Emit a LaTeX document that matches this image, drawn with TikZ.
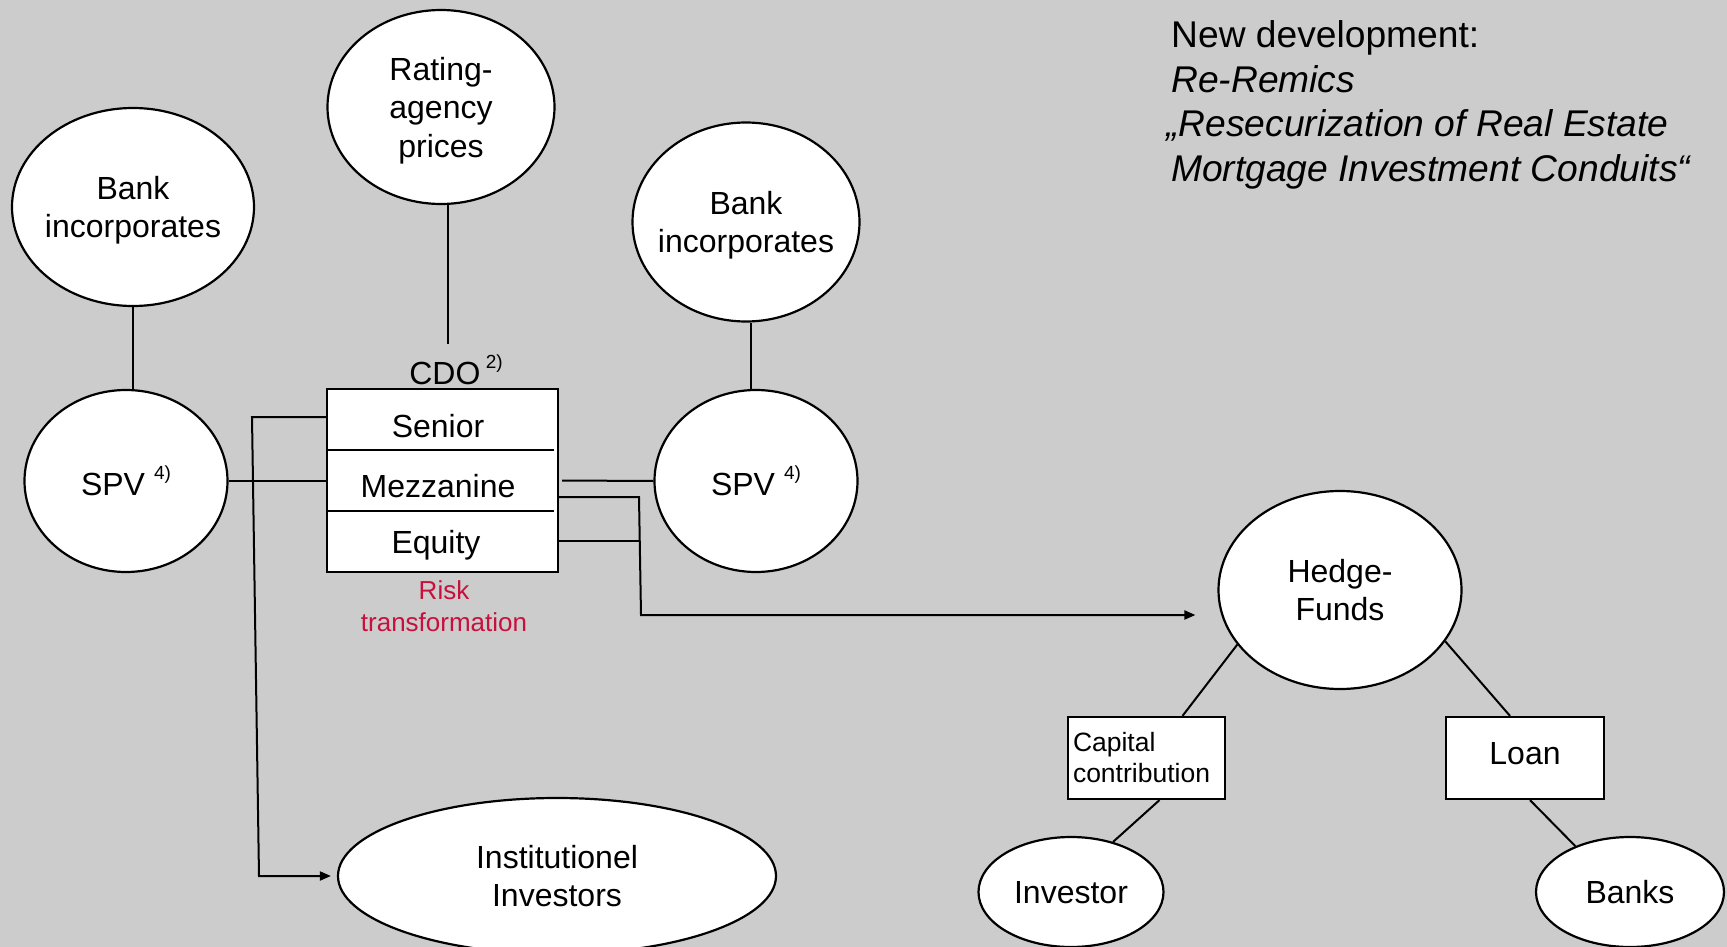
\documentclass[tikz,border=0pt]{standalone}
\usepackage{fontspec}
\setmainfont{Liberation Sans}
\usetikzlibrary{shapes.geometric,arrows.meta}
\definecolor{bg}{RGB}{204,204,204}
\definecolor{riskred}{RGB}{200,16,60}
\newcommand\fsz[2]{\fontsize{#1}{#2}\selectfont}
\newcommand\supr[1]{\raisebox{0.5em}{\fsz{19}{19}#1}}
\begin{document}
\begin{tikzpicture}[x=1pt,y=-1pt,
  ell/.style={ellipse,draw,fill=white,line width=2.2pt,inner sep=-20pt,text depth=0pt,align=center,font=\fsz{32}{38.5}},
  box/.style={rectangle,draw,fill=white,line width=2.2pt,inner sep=0pt},
  lbl/.style={inner sep=0pt,font=\fsz{32}{38.5}},
  red lbl/.style={inner sep=0pt,text=riskred,font=\fsz{26}{32}},
  note/.style={anchor=base west,inner sep=0pt,font=\fsz{37.2}{44}},
  conn/.style={line width=2pt},
  arr/.style={conn,-{Triangle[length=11pt,width=9pt]}},
]
\fill[bg] (0,0) rectangle (1727,947);
\useasboundingbox (0,0) rectangle (1727,947);

% ellipses
\node[ell,minimum width=242pt,minimum height=198pt] (bankL) at (133,207) {Bank\\incorporates};
\node[ell,minimum width=227pt,minimum height=194pt] (rating) at (441,107) {Rating-\\agency\\prices};
\node[ell,minimum width=227pt,minimum height=199pt] (bankR) at (746,222) {Bank\\incorporates};
\node[ell,minimum width=203pt,minimum height=182pt] (spvL) at (126,481) {SPV\hspace{9pt}\supr{4)}};
\node[ell,minimum width=203pt,minimum height=182pt] (spvR) at (756,481) {SPV\hspace{9pt}\supr{4)}};
\node[ell,minimum width=243pt,minimum height=198pt] (hedge) at (1340,590) {Hedge-\\Funds};
\node[ell,minimum width=438pt,minimum height=156pt] (inst) at (557,876) {Institutionel\\Investors};
\node[ell,minimum width=185pt,minimum height=110pt] (investor) at (1071,892) {Investor};
\node[ell,minimum width=188pt,minimum height=110pt] (banks) at (1630,892) {Banks};

% CDO box
\node[box,minimum width=231pt,minimum height=183pt] (cdo) at (442.5,480.5) {};
\draw[line width=2.2pt] (cdo.west |- 0,450) -- ([xshift=-5pt]cdo.east |- 0,450);
\draw[line width=2.2pt] (cdo.west |- 0,511) -- ([xshift=-5pt]cdo.east |- 0,511);
\node[lbl,anchor=base] (senior) at (438,437) {Senior};
\node[lbl,anchor=base] (mezz) at (438,497) {Mezzanine};
\node[lbl,anchor=base] (equity) at (436,553) {Equity};
\node[lbl,anchor=base] (cdolbl) at (456,384) {CDO\,\supr{2)}};
\node[red lbl,anchor=base] (risk) at (444,599) {Risk};
\node[red lbl,anchor=base] (transf) at (444,631) {transformation};

% small boxes
\node[box,minimum width=157pt,minimum height=82pt,text width=147pt,align=left,inner sep=5pt,font=\fsz{26.5}{31}] (cap) at (1146.5,758) {Capital\\contribution};
\node[box,minimum width=158pt,minimum height=82pt,font=\fsz{32}{38}] (loan) at (1525,758) {\raisebox{9pt}{Loan}\hspace{16pt}};

% note
\node[note] (nd1) at (1171,48) {New development:};
\node[note,font=\fsz{37.2}{44}\itshape] (nd2) at (1171,92.5) {Re-Remics};
\node[note,font=\fsz{37.2}{44}\itshape] (nd3) at (1166,137) {„Resecurization of Real Estate};
\node[note,font=\fsz{37.2}{44}\itshape] (nd4) at (1171,181.5) {Mortgage Investment Conduits“};

% connectors
\draw[conn] (bankL.south) -- (bankL.south |- spvL.north);
\draw[conn] ([xshift=7pt]rating.south) -- ([xshift=7pt]rating.south |- 0,344);
\draw[conn] ([xshift=5pt]bankR.south) -- ([xshift=5pt]bankR.south |- spvR.north);
\draw[conn] (spvL.east) -- (spvL.east -| cdo.west);
\coordinate (s1) at (252,417);
\coordinate (s2) at (259,876);
\draw[arr] (cdo.west |- s1) -- (s1) -- (s2) -- ([xshift=-6pt]inst.west);
\draw[conn] ([xshift=3pt]cdo.east) -- (spvR.west);
\coordinate (j1) at (639,497);
\coordinate (j2) at (641,615);
\draw[arr] (cdo.east |- j1) -- (j1) -- (j2) -- ([xshift=-22pt]hedge.west |- j2);
\draw[conn] (cdo.east |- 0,541) -- (j1 |- 0,541);
\draw[conn] (hedge.208) -- ([xshift=36pt]cap.north);
\draw[conn] (hedge.334) -- ([xshift=-15pt]loan.north);
\draw[conn] ([xshift=13pt]cap.south) -- (investor.50);
\draw[conn] ([xshift=5pt]loan.south) -- (banks.140);
\end{tikzpicture}
\end{document}
